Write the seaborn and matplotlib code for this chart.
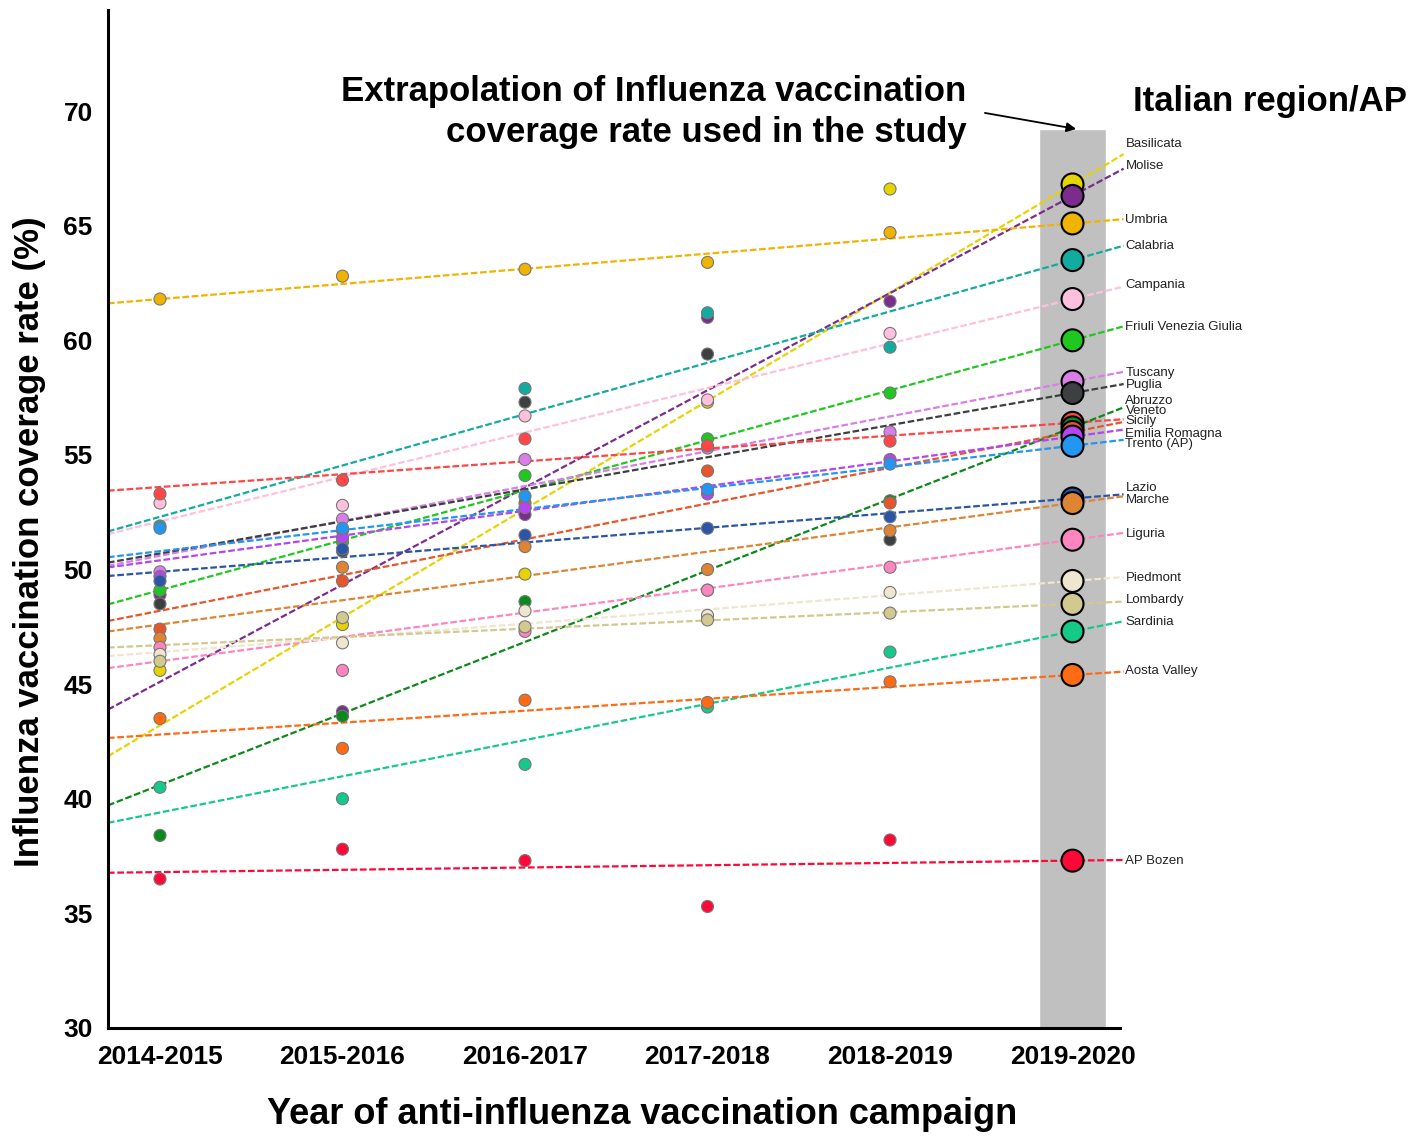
import numpy as np
import pandas as pd
import seaborn as sns
from matplotlib import pyplot as plt

seasons = ['2014-2015', '2015-2016', '2016-2017', '2017-2018', '2018-2019', '2019-2020']

regions = ['Basilicata', 'Molise', 'Umbria', 'Calabria', 'Campania', 'Friuli Venezia Giulia',
           'Tuscany', 'Puglia', 'Abruzzo', 'Veneto', 'Sicily', 'Emilia Romagna', 'Trento (AP)',
           'Lazio', 'Marche', 'Liguria', 'Piedmont', 'Lombardy', 'Sardinia', 'Aosta Valley',
           'AP Bozen']

colors = ['#e6d400', '#7b2d8e', '#f0b400', '#13aba0', '#ffc0dd', '#1ec81e',
          '#d97ee6', '#3c4040', '#ff4545', '#0a8a1a', '#e8552a', '#b545f0', '#2196f3',
          '#2a55a8', '#de8432', '#ff85c0', '#efe6cf', '#d2c98f', '#15c98a', '#ff6a13',
          '#ff0838']

# observed coverage 2014-2015 .. 2018-2019 (%)
basilicata = [45.6, 47.6, 49.8, 57.3, 66.6]
molise = [48.9, 43.8, 52.4, 61.0, 61.7]
umbria = [61.8, 62.8, 63.1, 63.4, 64.7]
calabria = [51.9, 51.7, 57.9, 61.2, 59.7]
campania = [52.9, 52.8, 56.7, 57.4, 60.3]
friuli = [49.1, 51.2, 54.1, 55.7, 57.7]
tuscany = [49.9, 52.2, 54.8, 55.3, 56.0]
puglia = [48.5, 50.8, 57.3, 59.4, 51.3]
abruzzo = [53.3, 53.9, 55.7, 55.4, 55.6]
veneto = [38.4, 43.6, 48.6, 49.1, 53.0]
sicily = [47.4, 49.5, 52.9, 54.3, 52.9]
emilia = [49.7, 51.4, 52.7, 53.3, 54.8]
trento = [51.8, 51.8, 53.2, 53.5, 54.6]
lazio = [49.5, 50.9, 51.5, 51.8, 52.3]
marche = [47.0, 50.1, 51.0, 50.0, 51.7]
liguria = [46.6, 45.6, 47.3, 49.1, 50.1]
piedmont = [46.3, 46.8, 48.2, 48.0, 49.0]
lombardy = [46.0, 47.9, 47.5, 47.8, 48.1]
sardinia = [40.5, 40.0, 41.5, 44.0, 46.4]
aosta = [43.5, 42.2, 44.3, 44.2, 45.1]
bozen = [36.5, 37.8, 37.3, 35.3, 38.2]

observed = [basilicata, molise, umbria, calabria, campania, friuli, tuscany, puglia,
            abruzzo, veneto, sicily, emilia, trento, lazio, marche, liguria, piedmont,
            lombardy, sardinia, aosta, bozen]

# fitted trend value at 2014-2015 and extrapolated value for 2019-2020
trend_start = [43.2, 45.1, 61.8, 52.3, 52.1, 49.1, 50.6, 50.7, 53.6, 40.6, 48.2, 50.4,
               50.8, 49.9, 47.6, 46.0, 46.4, 46.7, 39.4, 42.8, 36.8]
extrap_2020 = [66.8, 66.3, 65.1, 63.5, 61.8, 60.0, 58.2, 57.7, 56.4, 56.2, 56.0, 55.8,
               55.4, 53.1, 52.9, 51.3, 49.5, 48.5, 47.3, 45.4, 37.3]

label_y = [68.56, 67.6, 65.25, 64.12, 62.42, 60.59, 58.58, 58.06, 57.36, 56.93, 56.49,
           55.93, 55.49, 53.57, 53.05, 51.57, 49.65, 48.65, 47.69, 45.56, 37.28]

rows = []
for reg, vals in zip(regions, observed):
    for i, v in enumerate(vals):
        rows.append({'region': reg, 'x': i, 'rate': v})
df = pd.DataFrame(rows)
df_2020 = pd.DataFrame({'region': regions, 'x': 5, 'rate': extrap_2020})
palette = dict(zip(regions, colors))

sns.set_style('white')
plt.rcParams['font.family'] = ['Liberation Sans', 'DejaVu Sans']
plt.rcParams['text.color'] = 'black'
plt.rcParams['xtick.color'] = 'black'
plt.rcParams['ytick.color'] = 'black'
plt.rcParams['axes.labelcolor'] = 'black'

fig = plt.figure(figsize=(14.15, 11.38), dpi=100)
ax = fig.add_axes([0.0763, 0.0967, 0.7152, 0.8943])

x0, x1 = -0.285, 5.26
ax.bar(5, 69.2 - 30, bottom=30, width=0.372, color='#c0c0c0', zorder=1)

for reg, a, b in zip(regions, trend_start, extrap_2020):
    slope = (b - a) / 5.0
    xs = np.array([x0, 5.28])
    ax.plot(xs, a + slope * xs, color=palette[reg], lw=1.6, ls=(0, (3, 1.2)),
            zorder=2, clip_on=False)

sns.scatterplot(data=df, x='x', y='rate', hue='region', palette=palette, s=75,
                edgecolor='#777777', linewidth=0.8, legend=False, zorder=3, ax=ax)
sns.scatterplot(data=df_2020, x='x', y='rate', hue='region', palette=palette, s=250,
                edgecolor='black', linewidth=1.5, legend=False, zorder=4, ax=ax)

for reg, ly in zip(regions, label_y):
    ax.text(5.29, ly, reg, fontsize=9.5, va='center', ha='left', color='#222222',
            clip_on=False)

ax.set_xlim(x0, x1)
ax.set_ylim(30, 74.4)
ax.set_xticks(range(6))
ax.set_xticklabels(seasons, fontsize=19, fontweight='bold')
ax.set_yticks(range(30, 71, 5))
ax.set_yticklabels([str(v) for v in range(30, 71, 5)], fontsize=19, fontweight='bold')
ax.tick_params(axis='x', length=0, pad=12)
ax.tick_params(axis='y', length=0, pad=11)
for s in ['top', 'right']:
    ax.spines[s].set_visible(False)
for s in ['left', 'bottom']:
    ax.spines[s].set_color('black')
    ax.spines[s].set_linewidth(2.2)
ax.set_xlabel('')
ax.set_ylabel('')

fig.text(642 / 1415, 1 - 1115 / 1138, 'Year of anti-influenza vaccination campaign',
         fontsize=26, fontweight='bold', ha='center', va='center')
fig.text(30 / 1415, 1 - 542 / 1138, 'Influenza vaccination coverage rate (%)',
         fontsize=25, fontweight='bold', ha='center', va='center', rotation=90)

ax.text(4.42, 69.95, 'Extrapolation of Influenza vaccination\ncoverage rate used in the study',
        fontsize=25, fontweight='bold', ha='right', va='center', linespacing=1.32)
ax.annotate('', xy=(5.02, 69.22), xytext=(4.52, 69.92),
            arrowprops=dict(arrowstyle='-|>', color='black', lw=1.3,
                            shrinkA=0, shrinkB=0, mutation_scale=14))
ax.text(5.33, 70.4, 'Italian region/AP', fontsize=25, fontweight='bold',
        ha='left', va='center', clip_on=False)

plt.savefig('out.png', dpi=100)
